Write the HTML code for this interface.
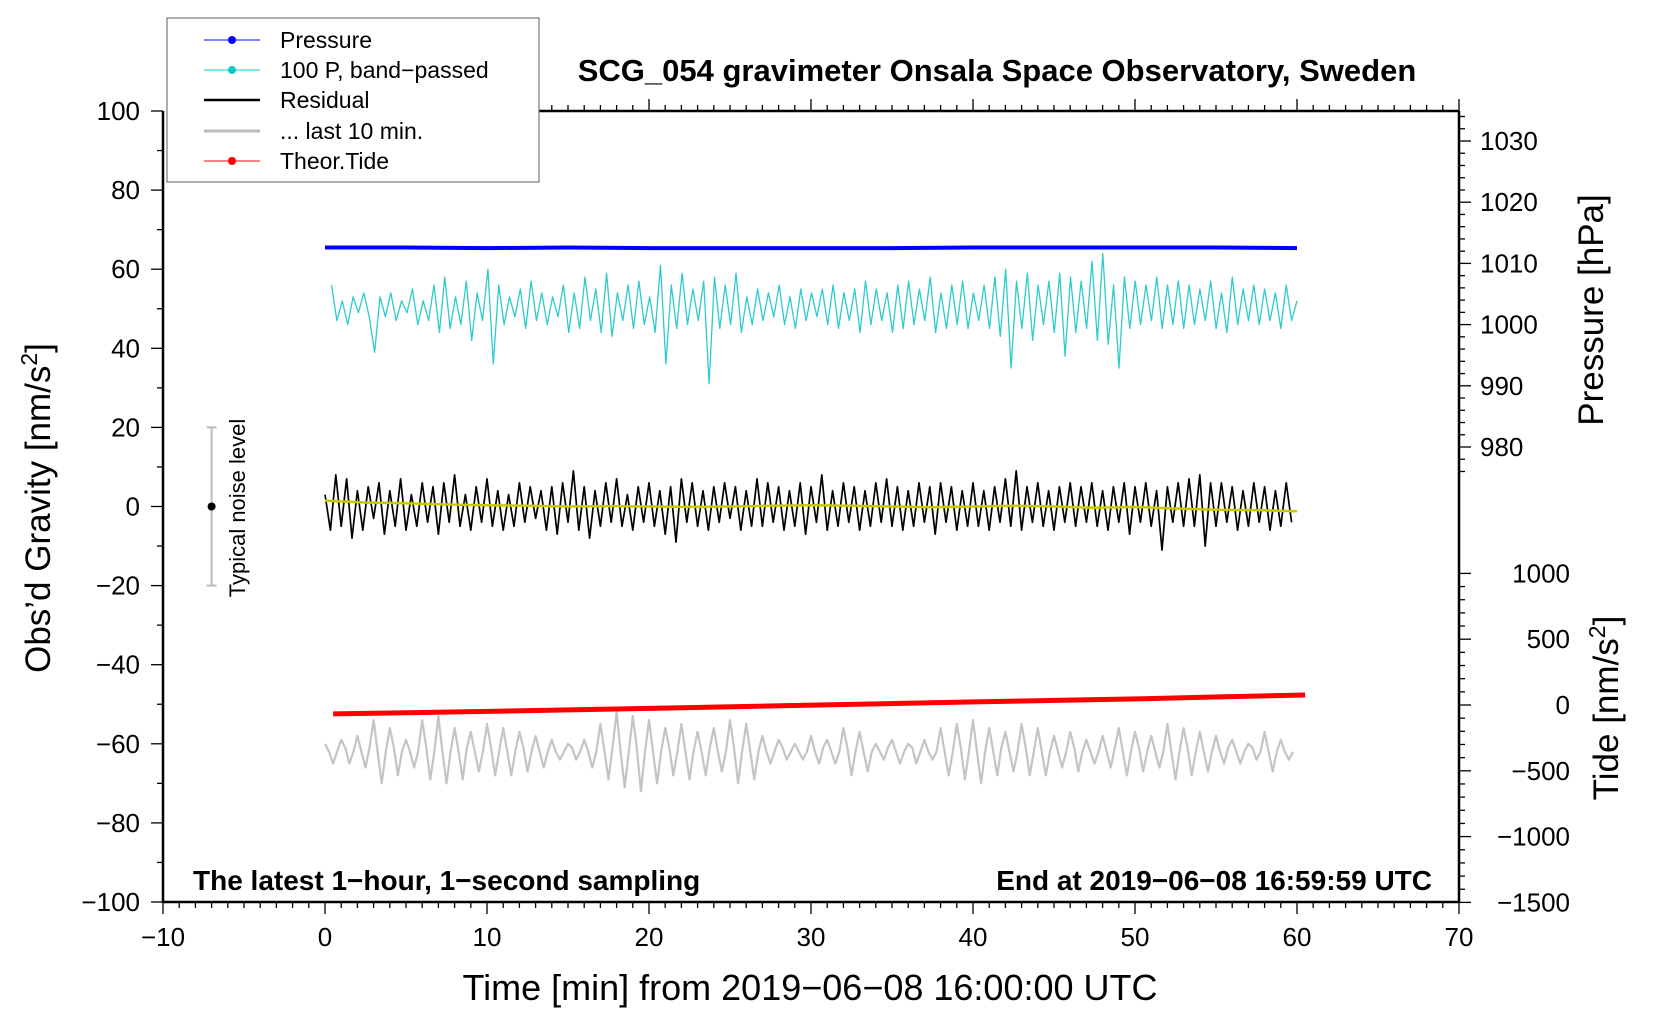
<!DOCTYPE html>
<html><head><meta charset="utf-8"><style>
html,body{margin:0;padding:0;background:#fff;}
svg{display:block;font-family:"Liberation Sans",sans-serif;}
</style></head><body>
<svg id="chart" width="1660" height="1020" viewBox="0 0 1660 1020" xmlns="http://www.w3.org/2000/svg">
<rect x="0" y="0" width="1660" height="1020" fill="#fff"/>
<g id="marks"></g>
<g id="axes"></g>
<text x="997" y="81" text-anchor="middle" font-weight="bold" font-size="31">SCG_054 gravimeter Onsala Space Observatory, Sweden</text>
<text x="193" y="890" font-weight="bold" font-size="28">The latest 1−hour, 1−second sampling</text>
<text x="1432" y="890" text-anchor="end" font-weight="bold" font-size="28">End at 2019−06−08 16:59:59 UTC</text>
<text x="810" y="1000" text-anchor="middle" font-size="36">Time [min] from 2019−06−08 16:00:00 UTC</text>
<text transform="translate(50,508) rotate(-90)" text-anchor="middle" font-size="35">Obs’d Gravity [nm/s<tspan baseline-shift="super" font-size="23">2</tspan>]</text>
<text transform="translate(1603,310) rotate(-90)" text-anchor="middle" font-size="35">Pressure [hPa]</text>
<text transform="translate(1618,708) rotate(-90)" text-anchor="middle" font-size="35">Tide [nm/s<tspan baseline-shift="super" font-size="23">2</tspan>]</text>
<text transform="translate(245,508) rotate(-90)" text-anchor="middle" font-size="22">Typical noise level</text>
<g>
<rect x="167" y="18" width="372" height="164" fill="#fff" stroke="#777" stroke-width="1.2"/>
<g><line x1="204" y1="40" x2="260" y2="40" stroke="#00f" stroke-width="1"/><circle cx="232" cy="40" r="4" fill="#00f"/><text x="280" y="48" font-size="23">Pressure</text></g>
<g><line x1="204" y1="70" x2="260" y2="70" stroke="#0cc" stroke-width="1"/><circle cx="232" cy="70" r="4" fill="#0cc"/><text x="280" y="78" font-size="23">100 P, band−passed</text></g>
<g><line x1="204" y1="100" x2="260" y2="100" stroke="#000" stroke-width="2.5"/><text x="280" y="108" font-size="23">Residual</text></g>
<g><line x1="204" y1="131" x2="260" y2="131" stroke="#bbb" stroke-width="3"/><text x="280" y="139" font-size="23">... last 10 min.</text></g>
<g><line x1="204" y1="161" x2="260" y2="161" stroke="#f00" stroke-width="1"/><circle cx="232" cy="161" r="4" fill="#f00"/><text x="280" y="169" font-size="23">Theor.Tide</text></g>
</g>
</svg>
<script>
const xTicks=[-10,0,10,20,30,40,50,60,70];
const yTicks=[100,80,60,40,20,0,-20,-40,-60,-80,-100];
const pTicks=[1030,1020,1010,1000,990,980];
const tTicks=[1000,500,0,-500,-1000,-1500];
const residual=[3,-6,8,-5,7,-8,4,-6,5,-3,6,-7,4,-5,7,-6,3,-5,6,-4,
5,-7,6,-4,8,-5,3,-6,5,-4,7,-5,4,-6,3,-5,6,-4,5,-3,
4,-6,5,-7,6,-4,9,-6,5,-8,4,-5,6,-4,7,-5,3,-6,5,-4,
6,-5,4,-7,5,-9,7,-4,6,-5,4,-6,5,-4,6,-3,5,-6,4,-5,
7,-5,6,-4,5,-6,4,-5,6,-7,5,-4,8,-6,4,-5,6,-4,5,-6,
4,-5,6,-4,7,-5,5,-6,4,-5,6,-4,5,-7,6,-4,5,-6,4,-5,
6,-5,4,-6,5,-4,7,-5,9,-6,5,-4,6,-5,4,-6,5,-4,6,-5,
5,-4,6,-5,4,-6,5,-4,6,-7,5,-4,6,-5,4,-11,5,-4,6,-5,
7,-5,8,-10,6,-5,6,-4,5,-6,4,-5,6,-4,5,-6,4,-5,6,-4];
const smooth=[1.5,1,0.8,0.5,0.3,0.2,0,0.1,0,-0.1,0,0.2,0.3,0.2,0,-0.2,0,0.2,0,-0.3,-0.1,-0.5,-0.8,-0.9,-1.2];
const bandPassed=[6,-3,2,-4,3,-1,4,-2,-11,3,-2,4,-3,2,-1,5,-4,2,-3,6,
-6,8,-5,3,-4,7,-8,4,-3,10,-14,6,-4,3,-2,5,-5,7,-3,4,
-4,3,-2,6,-6,4,-5,8,-3,5,-6,9,-7,4,-3,6,-5,7,-4,3,
-6,11,-14,6,-5,9,-4,5,-3,7,-19,8,-5,6,-4,9,-6,3,-4,5,
-3,4,-2,6,-4,3,-5,5,-3,4,-2,5,-4,6,-5,4,-3,5,-6,7,
-4,5,-3,4,-6,6,-5,7,-4,5,-3,8,-6,4,-5,6,-4,7,-5,4,
-3,6,-5,8,-7,10,-15,7,-5,9,-8,6,-4,7,-6,9,-12,8,-6,7,
-5,12,-8,14,-9,6,-15,8,-5,7,-4,6,-3,8,-5,6,-4,7,-5,6,
-4,5,-3,7,-5,4,-6,8,-4,5,-3,6,-4,5,-3,4,-5,6,-3,2];
const last10=[2,0,-3,0,3,1,-3,0,4,0,-4,1,8,0,-8,0,6,1,-6,0,3,0,-4,0,8,1,-7,0,9,0,-8,0,6,0,-7,1,5,0,-5,0,
7,1,-6,0,6,0,-6,0,5,1,-5,0,4,0,-4,0,3,0,-2,0,2,1,-2,0,3,0,-4,0,7,0,-7,1,10,0,-9,0,9,1,-10,0,
8,0,-8,0,6,1,-6,0,7,0,-7,0,5,0,-6,1,6,0,-5,0,8,1,-8,0,7,0,-7,0,4,0,-3,0,3,1,-2,0,2,0,-2,0,
4,0,-3,1,3,0,-3,0,6,1,-6,0,5,0,-5,0,2,0,-2,1,3,0,-3,0,2,1,-3,0,3,0,-2,0,6,0,-6,0,7,1,-7,0,
8,0,-8,0,6,0,-6,1,5,0,-5,0,7,1,-6,0,6,0,-6,0,4,0,-4,0,5,1,-5,0,3,0,-3,0,4,0,-4,1,6,0,-6,0,
5,1,-5,0,4,0,-4,0,7,0,-7,0,6,1,-6,0,5,0,-5,0,4,0,-3,1,3,0,-3,0,2,1,-2,0,5,0,-5,0,3,0,-2,0];
const tide=[-68,-58,-48,-36,-24,-12,0,12,24,36,48,62,76];
const pressure=[1012.6,1012.6,1012.5,1012.6,1012.5,1012.5,1012.5,1012.5,1012.6,1012.6,1012.6,1012.6,1012.5];

const X=v=>163+(v+10)*(1296/80);
const Y=v=>111+(100-v)*(791/200);
const YP=v=>141+(1030-v)*6.12;
const YT=v=>705-v*0.1316;
const NS='http://www.w3.org/2000/svg';
const marks=document.getElementById('marks'), axes=document.getElementById('axes');
function mk(tag,attrs,parent){const e=document.createElementNS(NS,tag);for(const k in attrs)e.setAttribute(k,attrs[k]);parent.appendChild(e);return e;}
function poly(pts,stroke,w,name){const e=mk('polyline',{points:pts.map(p=>p[0].toFixed(1)+','+p[1].toFixed(1)).join(' '),fill:'none',stroke:stroke,'stroke-width':w,'stroke-linejoin':'round'},marks);


return e;}

poly(last10.map((v,i)=>[X(i*0.25),Y(-62+v)]),'#c4c4c4',2.2,'last-10-min-line');
poly(tide.map((v,i)=>[X(0.5+i*5),YT(v)]),'#f00',5,'theor-tide-line');
poly(bandPassed.map((v,i)=>[X(0.4+i*(59.6/179)),Y(50+v)]),'#2ecbcb',1.3,'band-passed-line');
poly(residual.map((v,i)=>[X(i/3),Y(v)]),'#000',1.7,'residual-line');
poly(smooth.map((v,i)=>[X(i*2.5),Y(v)]),'#c8c800',2.5,'residual-smoothed-line');
poly(pressure.map((v,i)=>[X(i*5),YP(v)]),'#00f',4,'pressure-line');

{const g=mk('g',{},marks);


mk('line',{x1:X(-7),x2:X(-7),y1:Y(20),y2:Y(-20),stroke:'#bbb','stroke-width':2},g);
mk('line',{x1:X(-7)-5,x2:X(-7)+5,y1:Y(20),y2:Y(20),stroke:'#bbb','stroke-width':2},g);
mk('line',{x1:X(-7)-5,x2:X(-7)+5,y1:Y(-20),y2:Y(-20),stroke:'#bbb','stroke-width':2},g);
mk('circle',{cx:X(-7),cy:Y(0),r:4,fill:'#000'},g);}

mk('line',{x1:163,y1:111,x2:163,y2:902,stroke:'#000','stroke-width':2.5},axes);
mk('line',{x1:163,y1:902,x2:1459,y2:902,stroke:'#000','stroke-width':2.5},axes);
mk('line',{x1:1459,y1:111,x2:1459,y2:902,stroke:'#000','stroke-width':2.5},axes);
mk('line',{x1:539,y1:111,x2:1459,y2:111,stroke:'#000','stroke-width':2.5},axes);
for(let m=-10;m<=70;m++){const major=m%10===0;const x=X(m);
mk('line',{x1:x,x2:x,y1:902,y2:902+(major?12:6),stroke:'#000','stroke-width':1.3},axes);
if(m>=10)mk('line',{x1:x,x2:x,y1:111,y2:111-(major?12:6),stroke:'#000','stroke-width':1.3},axes);}
xTicks.forEach(v=>{const t=mk('text',{x:X(v),y:946,'text-anchor':'middle','font-size':26},axes);t.textContent=String(v).replace('-','−');

});
for(let v=-100;v<=100;v+=10){mk('line',{x1:163,x2:163-(v%20===0?12:6),y1:Y(v),y2:Y(v),stroke:'#000','stroke-width':1.3},axes);}
yTicks.forEach(v=>{const t=mk('text',{x:140,y:Y(v)+9,'text-anchor':'end','font-size':26},axes);t.textContent=String(v).replace('-','−');

});
for(let v=976;v<=1034;v+=2){if(YP(v)<111)continue;mk('line',{x1:1459,x2:1459+(v%10===0?12:6),y1:YP(v),y2:YP(v),stroke:'#000','stroke-width':1.3},axes);}
pTicks.forEach(v=>{const t=mk('text',{x:1480,y:YP(v)+9,'font-size':26},axes);t.textContent=v;

});
for(let v=-1500;v<=1000;v+=100){mk('line',{x1:1459,x2:1459+(v%500===0?12:6),y1:YT(v),y2:YT(v),stroke:'#000','stroke-width':1.3},axes);}
tTicks.forEach(v=>{const t=mk('text',{x:1570,y:YT(v)+9,'text-anchor':'end','font-size':26},axes);t.textContent=String(v).replace('-','−');

});
</script>
</body></html>
